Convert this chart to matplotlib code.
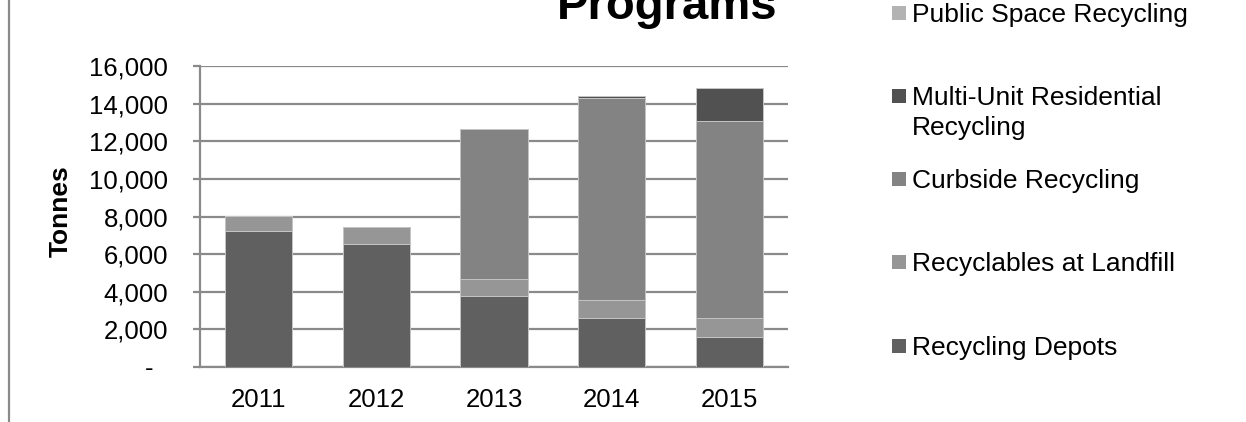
import matplotlib
matplotlib.use("Agg")
import matplotlib.pyplot as plt
from matplotlib.patches import Rectangle
from matplotlib.lines import Line2D
from matplotlib.ticker import FixedLocator
import matplotlib.transforms as mtransforms
import numpy as np

plt.rcParams['font.family'] = ['Liberation Sans', 'DejaVu Sans']

years = ["2011", "2012", "2013", "2014", "2015"]
recycling_depots = [7230, 6530, 3780, 2610, 1600]
recyclables_at_landfill = [800, 920, 890, 940, 980]
curbside_recycling = [0, 0, 7990, 10760, 10490]
multi_unit_residential = [0, 0, 0, 100, 1770]
public_space_recycling = [0, 0, 0, 0, 0]

series_names = ["Recycling Depots", "Recyclables at Landfill", "Curbside Recycling",
                "Multi-Unit Residential\nRecycling", "Public Space Recycling"]
series_values = [recycling_depots, recyclables_at_landfill, curbside_recycling,
                 multi_unit_residential, public_space_recycling]
series_colors = ["#606060", "#969696", "#838383", "#515151", "#b3b3b3"]

y_ticks = [0, 2000, 4000, 6000, 8000, 10000, 12000, 14000, 16000]
y_tick_labels = ["-", "2,000", "4,000", "6,000", "8,000", "10,000", "12,000", "14,000", "16,000"]

W, H = 1246, 422
fig = plt.figure(figsize=(W / 100, H / 100), dpi=100)
ax = fig.add_axes([200 / W, (H - 367) / H, 588 / W, 301 / H])

x = np.arange(len(years))
bottom = np.zeros(len(years))
for vals, col in zip(series_values, series_colors):
    v = np.array(vals, dtype=float)
    ax.bar(x, v, width=0.57, bottom=bottom, color=col, edgecolor="#c4c4c4",
           linewidth=0.7, zorder=3)
    bottom += v

grid_col = "#8a8a8a"
ax.set_xlim(-0.5, len(years) - 0.5)
ax.set_ylim(0, 16000)
ax.yaxis.set_major_locator(FixedLocator(y_ticks))
ax.set_yticklabels(y_tick_labels)
ax.set_xticks(x)
ax.set_xticklabels(years)
ax.grid(axis="y", color=grid_col, linewidth=1.6, zorder=0)
ax.set_axisbelow(True)
for s in ["top", "right"]:
    ax.spines[s].set_visible(False)
for s in ["left", "bottom"]:
    ax.spines[s].set_color(grid_col)
    ax.spines[s].set_linewidth(1.6)
ax.tick_params(axis="y", length=5, width=1.6, color=grid_col, pad=18, labelsize=18.5)
ax.tick_params(axis="x", length=0, pad=15, labelsize=18.5)

# shift the "-" zero label left as in accounting format
lbl0 = ax.get_yticklabels()[0]
lbl0.set_transform(lbl0.get_transform() + mtransforms.ScaledTranslation(-15 / 100, 0, fig.dpi_scale_trans))

ax.set_ylabel("Tonnes", fontsize=19, fontweight="bold")
ax.yaxis.set_label_coords(73 / W, 0.5, transform=fig.transFigure)

fig.text(667 / W, (H - 19) / H, "Programs", ha="center", va="baseline",
         fontsize=34, fontweight="bold")

# left border line
fig.add_artist(Line2D([9 / W, 9 / W], [0, 1], transform=fig.transFigure,
                      color="#8a8a8a", linewidth=1.6))

# legend (reverse order, top to bottom)
centers = [13, 96, 179, 262, 346]
for cy, name, col in zip(centers, series_names[::-1], series_colors[::-1]):
    fig.add_artist(Rectangle((892 / W, (H - cy - 7) / H), 14 / W, 14 / H,
                             transform=fig.transFigure, facecolor=col, edgecolor="none"))
    for i, line in enumerate(name.split("\n")):
        fig.text(912 / W, (H - cy - 9 - 30 * i) / H, line, ha="left", va="baseline",
                 fontsize=19)

fig.savefig("out.png", dpi=100)
